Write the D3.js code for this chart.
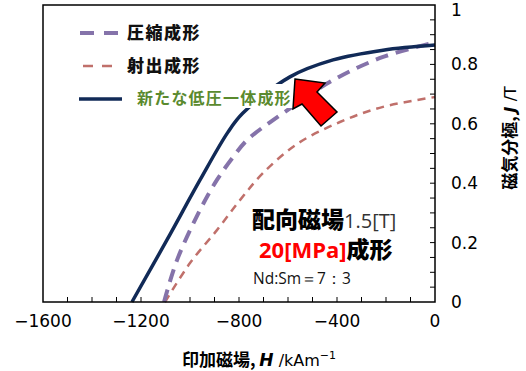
<!DOCTYPE html>
<html><head><meta charset="utf-8">
<script src="https://cdn.jsdelivr.net/npm/d3@7"></script>
<style>body{margin:0;background:#fff}svg{display:block}</style>
</head><body>
<svg id="c" width="526" height="371"></svg>
<script>
const xTicks = [-1600, -1200, -800, -400, 0];
const yTicks = [0, 0.2, 0.4, 0.6, 0.8, 1];
const seriesNames = ["圧縮成形", "射出成形", "新たな低圧一体成形"];
const compH = [-1106, -1053, -959, -890, -824, -767, -620, -416, -212, 0];
const compJ = [0, 0.141, 0.310, 0.411, 0.488, 0.545, 0.636, 0.747, 0.825, 0.874];
const injH = [-1102, -1000, -890, -796, -702, -563, -388, -212, 0];
const injJ = [0, 0.131, 0.242, 0.343, 0.434, 0.532, 0.606, 0.657, 0.690];
const newH = [-1237, -1094, -959, -845, -784, -592, -416, -212, 0];
const newJ = [0, 0.209, 0.411, 0.572, 0.636, 0.758, 0.815, 0.848, 0.865];

const svg = d3.select("#c");
const x = d3.scaleLinear().domain([-1600, 0]).range([43, 435]);
const y = d3.scaleLinear().domain([0, 1]).range([302, 5]);
const tickFont = "'DejaVu Sans', sans-serif";
const cjk = "'Noto Sans CJK JP', sans-serif";

// ticks inside
const xMinor = d3.range(-1500, 0, 100);
svg.append("g").selectAll("line").data(xMinor).join("line")
  .attr("x1", d => x(d)).attr("x2", d => x(d)).attr("y1", 302).attr("y2", 297)
  .attr("stroke", "#000").attr("stroke-width", 1);
const yMinor = d3.range(1, 20).map(i => i * 0.05);
svg.append("g").selectAll("line").data(yMinor).join("line")
  .attr("x1", 435).attr("x2", 430).attr("y1", d => y(d)).attr("y2", d => y(d))
  .attr("stroke", "#000").attr("stroke-width", 1);

// curves
const line = d3.line().x(d => x(d[0])).y(d => y(d[1])).curve(d3.curveCatmullRom.alpha(0.5));
const zip = (a, b) => a.map((v, i) => [v, b[i]]);
svg.append("path").attr("d", line(zip(injH, injJ))).attr("fill", "none")
  .attr("stroke", "#c0706b").attr("stroke-width", 2.5).attr("stroke-dasharray", "8,6");
svg.append("path").attr("d", line(zip(compH, compJ))).attr("fill", "none")
  .attr("stroke", "#8573aa").attr("stroke-width", 4).attr("stroke-dasharray", "13,8");
svg.append("path").attr("d", line(zip(newH, newJ))).attr("fill", "none")
  .attr("stroke", "#112a57").attr("stroke-width", 3.5);

// frame
svg.append("rect").attr("x", 43).attr("y", 5).attr("width", 392).attr("height", 297)
  .attr("fill", "none").attr("stroke", "#000").attr("stroke-width", 1.5);

// axes labels
svg.append("g").selectAll("text").data(xTicks).join("text")
  .attr("x", d => x(d)).attr("y", 327).attr("text-anchor", "middle")
  .attr("font-family", tickFont).attr("font-size", 17)
  .text(d => d < 0 ? "−" + Math.abs(d) : d);
svg.append("g").selectAll("text").data(yTicks).join("text")
  .attr("x", 451).attr("y", d => Math.max(y(d) + 6, 16)).attr("text-anchor", "start")
  .attr("font-family", tickFont).attr("font-size", 17)
  .text(d => d);

// axis titles
const xt = svg.append("text").attr("x", 259).attr("y", 366).attr("text-anchor", "middle")
  .attr("font-family", cjk).attr("font-size", 17).attr("font-weight", "bold");
xt.append("tspan").text("印加磁場, ");
xt.append("tspan").attr("font-style", "italic").attr("font-family", tickFont).attr("font-size", 17).text("H");
xt.append("tspan").attr("font-weight", "normal").attr("font-family", tickFont).attr("font-size", 16).text(" /kAm");
xt.append("tspan").attr("font-weight", "normal").attr("font-family", tickFont).attr("font-size", 11).attr("dy", -7).text("−1");

const yt = svg.append("text").attr("transform", "translate(516,138) rotate(-90)").attr("text-anchor", "middle")
  .attr("font-family", cjk).attr("font-size", 17).attr("font-weight", "bold");
yt.append("tspan").text("磁気分極, ");
yt.append("tspan").attr("font-style", "italic").attr("font-family", tickFont).attr("font-size", 16).text("J");
yt.append("tspan").attr("font-weight", "normal").attr("font-family", tickFont).attr("font-size", 16).text(" /T");

// legend
svg.append("line").attr("x1", 80).attr("x2", 122).attr("y1", 33).attr("y2", 33)
  .attr("stroke", "#8573aa").attr("stroke-width", 4).attr("stroke-dasharray", "14,10");
svg.append("line").attr("x1", 83).attr("x2", 112).attr("y1", 66).attr("y2", 66)
  .attr("stroke", "#c0706b").attr("stroke-width", 2.5).attr("stroke-dasharray", "10,9");
svg.append("line").attr("x1", 79).attr("x2", 122).attr("y1", 99).attr("y2", 99)
  .attr("stroke", "#112a57").attr("stroke-width", 3.5);
svg.append("text").attr("x", 127).attr("y", 39).attr("font-family", cjk).attr("font-size", 17)
  .attr("font-weight", "900").attr("letter-spacing", 1.5).attr("fill", "#111").text(seriesNames[0]);
svg.append("text").attr("x", 127).attr("y", 72).attr("font-family", cjk).attr("font-size", 17)
  .attr("font-weight", "900").attr("letter-spacing", 1.5).attr("fill", "#111").text(seriesNames[1]);
svg.append("rect").attr("x", 133).attr("y", 84).attr("width", 162).attr("height", 24).attr("fill", "#fff");
svg.append("text").attr("x", 137).attr("y", 104).attr("font-family", cjk).attr("font-size", 16)
  .attr("font-weight", "bold").attr("letter-spacing", 1.2).attr("fill", "#5a8a2e").text(seriesNames[2]);

// arrow
svg.append("polygon")
  .attr("points", "295,79 325,83 317,92 337,112 321,126 302,104 293,109")
  .attr("fill", "#ff0000").attr("stroke", "#000").attr("stroke-width", 1.5).attr("stroke-linejoin", "miter");

// annotation
const a1 = svg.append("text").attr("x", 252).attr("y", 228);
a1.append("tspan").attr("font-family", cjk).attr("font-size", 23).attr("font-weight", "900").attr("fill", "#000").text("配向磁場");
a1.append("tspan").attr("font-family", "'Open Sans', sans-serif").attr("font-size", 20).attr("fill", "#333").text("1.5[T]");
const a2 = svg.append("text").attr("x", 259).attr("y", 258);
a2.append("tspan").attr("font-family", "'Open Sans', sans-serif").attr("font-size", 22).attr("font-weight", "bold").attr("fill", "#ff0000").text("20[MPa]");
a2.append("tspan").attr("font-family", cjk).attr("font-size", 23).attr("font-weight", "900").attr("fill", "#000").text("成形");
svg.append("text").attr("x", 253).attr("y", 284).attr("font-family", "'Open Sans', sans-serif")
  .attr("font-size", 15.5).attr("fill", "#111").text("Nd:Sm＝7：3");
</script>
</body></html>
